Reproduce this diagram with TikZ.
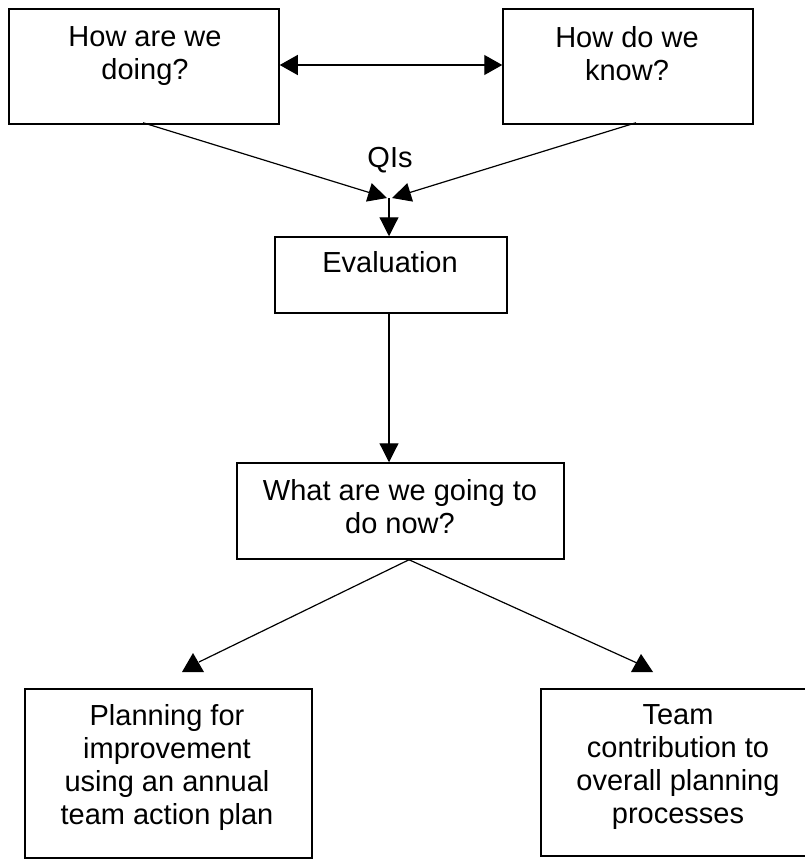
\documentclass[tikz,border=0pt]{standalone}
\usepackage{fontspec}
\setmainfont{Liberation Sans}
\usetikzlibrary{arrows.meta,calc}
\begin{document}
\begin{tikzpicture}[x=1pt,y=1pt,
  box/.style={draw, line width=1.5pt, inner sep=0pt, rectangle},
  txt/.style={font=\fontsize{29}{33}\selectfont, align=center, inner sep=0pt, anchor=north},
  conn/.style={line width=1.2pt},
  arr/.style={conn, -{Triangle[length=19pt,width=19pt]}},
  dbl/.style={conn, {Triangle[length=18pt,width=20pt]}-{Triangle[length=18pt,width=20pt]}},
  head/.style={fill=black},
]
\useasboundingbox (0,0) rectangle (804,-859);
% boxes
\node[box, minimum width=270pt, minimum height=115pt] (b1) at (144,-66.5) {};
\node[box, minimum width=250pt, minimum height=115pt] (b2) at (628,-66.5) {};
\node[box, minimum width=232pt, minimum height=76pt] (ev) at (391,-275) {};
\node[box, minimum width=327pt, minimum height=96pt] (wh) at (400.5,-511) {};
\node[box, minimum width=287pt, minimum height=169pt] (pl) at (168.5,-773.5) {};
\node[box, minimum width=284pt, minimum height=167pt] (tm) at (683,-772.5) {};
% texts
\node[txt] (t1) at (145,-26) {How are we\\doing?};
\node[txt] (t2) at (627,-26) {How do we\\know?};
\node[txt, anchor=base] (qi) at (390,-167) {QIs};
\node[txt, anchor=base] (tev) at (390,-272) {Evaluation};
\node[txt] (twh) at (400,-479) {What are we going to\\do now?};
\node[txt] (tpl) at (167,-704) {Planning for\\improvement\\using an annual\\team action plan};
\node[txt] (ttm) at (678,-704) {Team\\contribution to\\overall planning\\processes};
% connectors
\coordinate (dy) at (0,-65);
\draw[dbl] (b1.east |- dy) -- (b2.west |- dy);
\coordinate (tipL) at (387,-198);
\coordinate (tipR) at (392,-198);
\coordinate (j) at (389,-198);
\draw[arr] ($(b1.south)+(-1,2)$) -- (tipL);
\draw[arr] ($(b2.south)+(8,2)$) -- (tipR);
\draw[arr] (j) -- (j |- ev.north);
\draw[arr] (ev.south -| j) -- (wh.north -| j);
\coordinate (ap) at ($(wh.south)+(8.5,0)$);
\coordinate (eL) at (199,-662);
\coordinate (eR) at (637,-663);
\draw[conn] (ap) -- (eL);
\draw[conn] (ap) -- (eR);
\fill[head] (193,-653) -- (182,-672) -- (204,-672) -- cycle;
\fill[head] (641,-654) -- (631,-672) -- (653,-672) -- cycle;
\end{tikzpicture}
\end{document}
